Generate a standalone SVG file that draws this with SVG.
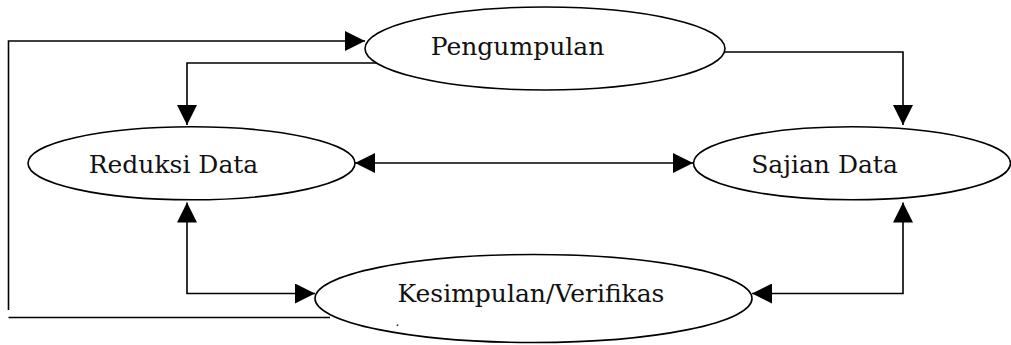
<svg xmlns="http://www.w3.org/2000/svg" width="1011" height="345" viewBox="0 0 1011 345">
  <defs>
    <marker id="arrow" viewBox="0 0 20 20" refX="20" refY="10" markerWidth="20" markerHeight="20" markerUnits="userSpaceOnUse" orient="auto-start-reverse">
      <path d="M0,0 L20,10 L0,20 Z" fill="#000"/>
    </marker>
  </defs>
  <style>
    .conn { fill: none; stroke: #000; stroke-width: 1.6; }
    .node ellipse { fill: #fff; stroke: #000; stroke-width: 1.6; }
    .node text { font-family: "DejaVu Serif", "Liberation Serif", serif; font-size: 25px; fill: #111; text-anchor: middle; }
  </style>

  <rect width="1011" height="345" fill="#fff"/>

  <!-- connectors -->
  <g id="connectors">
    <!-- feedback loop from conclusion back to data collection -->
    <path class="conn" d="M8.5,310 V41 H365" marker-end="url(#arrow)"/>
    <path class="conn" d="M8.5,317.5 H330"/>
    <!-- collection to reduction and display -->
    <path class="conn" d="M377,63 H187 V125" marker-end="url(#arrow)"/>
    <path class="conn" d="M725,52 H903 V125" marker-end="url(#arrow)"/>
    <!-- reduction and display -->
    <path class="conn" d="M355,163 H693" marker-start="url(#arrow)" marker-end="url(#arrow)"/>
    <!-- reduction and conclusion -->
    <path class="conn" d="M187,202.5 V293.5 H315" marker-start="url(#arrow)" marker-end="url(#arrow)"/>
    <!-- display and conclusion -->
    <path class="conn" d="M903,202.5 V293.5 H752" marker-start="url(#arrow)" marker-end="url(#arrow)"/>
  </g>

  <g id="pengumpulan" class="node">
    <ellipse cx="545" cy="48.5" rx="180" ry="41.5"/>
    <text x="517.5" y="55">Pengumpulan</text>
  </g>

  <g id="reduksi-data" class="node">
    <ellipse cx="191.5" cy="163.3" rx="163.5" ry="36.5"/>
    <text x="173.5" y="173">Reduksi Data</text>
  </g>

  <g id="sajian-data" class="node">
    <ellipse cx="852" cy="163.3" rx="158.5" ry="36.5"/>
    <text x="824.5" y="173">Sajian Data</text>
  </g>

  <g id="kesimpulan" class="node">
    <ellipse cx="533.5" cy="298.5" rx="218.5" ry="44"/>
    <text x="531" y="302">Kesimpulan/Verifikas</text>
    <text x="397.5" y="326" style="font-size:12px">.</text>
  </g>
</svg>
